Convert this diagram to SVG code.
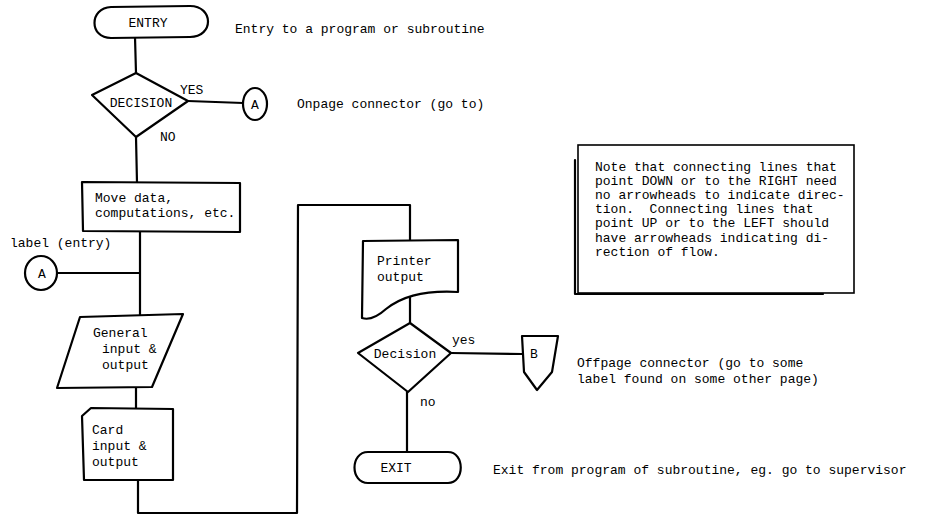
<svg xmlns="http://www.w3.org/2000/svg" width="927" height="516" viewBox="0 0 927 516">
<style>
.s{fill:none;stroke:#000;stroke-width:2.2;stroke-linejoin:round;stroke-linecap:round}
.w{fill:#fff;stroke:#000;stroke-width:2.2;stroke-linejoin:round}
text{font-family:"Liberation Mono","DejaVu Sans Mono",monospace;font-size:13px;fill:#000;white-space:pre}
.c{text-anchor:middle}
</style>
<rect width="927" height="516" fill="#fff"/>
<g id="connectors">
<path class="s" d="M135,37 L136,73"/>
<path class="s" d="M188,101 L243,103"/>
<path class="s" d="M136,137 L137,183"/>
<path class="s" d="M140,232 L140,315"/>
<path class="s" d="M57,273 L140,273"/>
<path class="s" d="M136,388 L136,409"/>
<path class="s" d="M138,480 L138,513 L297,513 L298,205 L410,205 L410,241"/>
<path class="s" d="M410,296 L410,323"/>
<path class="s" d="M451,353 L522,354"/>
<path class="s" d="M407,392 L407,452"/>
</g>
<g id="entry">
<path class="w" d="M111,7 L190,6 C214,6 214,37 190,37 L111,38 C89,38 89,8 111,7 Z"/>
<text x="148" y="27" class="c">ENTRY</text>
</g>
<text x="235" y="33">Entry to a program or subroutine</text>
<g id="decision1">
<path class="w" d="M136,73 L188,101 L136,137 L92,95 Z"/>
<text x="141" y="107" class="c">DECISION</text>
</g>
<text x="180" y="94">YES</text>
<text x="160" y="141">NO</text>
<g id="connA1">
<ellipse class="w" cx="255" cy="104" rx="12" ry="16"/>
<text x="255" y="109" class="c">A</text>
</g>
<text x="297" y="108">Onpage connector (go to)</text>
<g id="process">
<path class="w" d="M82,182 L240,183 L240,232 L83,231 Z"/>
<text x="95" y="202">Move data,</text>
<text x="95" y="217">computations, etc.</text>
</g>
<text x="10" y="247">label (entry)</text>
<g id="connA2">
<ellipse class="w" cx="41" cy="273" rx="16" ry="17"/>
<text x="42" y="278" class="c">A</text>
</g>
<g id="io">
<path class="w" d="M80,317 L183,314 L152,387 L57,388 Z"/>
<text x="93" y="337">General</text>
<text x="102" y="353">input &amp;</text>
<text x="102" y="369">output</text>
</g>
<g id="card">
<path class="w" d="M82,416 L91,408 L173,409 L173,480 L84,480 Z"/>
<text x="92" y="434">Card</text>
<text x="92" y="450">input &amp;</text>
<text x="92" y="466">output</text>
</g>
<g id="printer">
<path class="w" d="M363,241 L458,240 L458,292 C420,290 400,298 386,309 C376,318 368,320 362,318 Z"/>
<text x="377" y="265">Printer</text>
<text x="377" y="281">output</text>
</g>
<g id="decision2">
<path class="w" d="M410,323 L451,353 L408,392 L358,353 Z"/>
<text x="405" y="358" class="c">Decision</text>
</g>
<text x="452" y="344">yes</text>
<text x="420" y="406">no</text>
<g id="offpageB">
<path class="w" d="M522,336 L558,336 L552,372 L537,390 L524,372 Z"/>
<text x="534" y="358" class="c">B</text>
</g>
<text x="577" y="367">Offpage connector (go to some</text>
<text x="577" y="383">label found on some other page)</text>
<g id="exit">
<path class="w" d="M368,452 L448,452 C465,452 465,483 448,483 L368,483 C350,483 350,452 368,452 Z"/>
<text x="396" y="472" class="c">EXIT</text>
</g>
<text x="493" y="474">Exit from program of subroutine, eg. go to supervisor</text>
<g id="note">
<rect x="578" y="145" width="276" height="148" fill="#fff" stroke="#000" stroke-width="1.6"/>
<path class="s" d="M575,160 L575,294 L823,294" stroke-width="3"/>
<text x="595" y="171">Note that connecting lines that</text>
<text x="595" y="185">point DOWN or to the RIGHT need</text>
<text x="595" y="199">no arrowheads to indicate direc-</text>
<text x="595" y="213">tion.  Connecting lines that</text>
<text x="595" y="227">point UP or to the LEFT should</text>
<text x="595" y="242">have arrowheads indicating di-</text>
<text x="595" y="256">rection of flow.</text>
</g>
</svg>
